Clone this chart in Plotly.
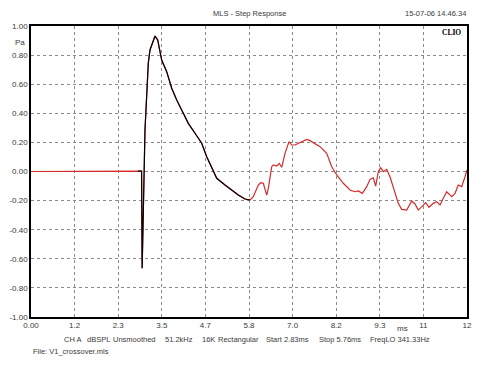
import plotly.graph_objects as go

# Full step response (ms, Pa)
time_ms = [0.0, 1.0, 2.0, 2.86, 2.96, 2.975, 3.00, 3.051, 3.14, 3.185, 3.319, 3.391, 3.498,
           3.632, 3.766, 3.900, 4.077, 4.210, 4.390, 4.569, 4.703, 4.837, 4.971, 5.193,
           5.372, 5.549, 5.728, 5.862,
           5.950, 6.084, 6.148, 6.218, 6.309, 6.352, 6.443, 6.486, 6.577, 6.646, 6.710,
           6.799, 6.906, 6.978, 7.066, 7.155, 7.246, 7.380, 7.468, 7.602, 7.736, 7.915,
           8.049, 8.183, 8.359, 8.539, 8.672, 8.761, 8.868, 8.986, 9.074, 9.162, 9.226,
           9.296, 9.360, 9.430, 9.521, 9.609, 9.724, 9.831, 9.922, 10.056, 10.190, 10.278,
           10.367, 10.458, 10.565, 10.653, 10.768, 10.859, 10.948, 11.036, 11.127, 11.261,
           11.349, 11.437, 11.528, 11.617, 11.67]
pressure_pa = [0.0, 0.002, 0.0, 0.002, 0.003, -0.665, -0.40, 0.285, 0.746, 0.835, 0.931, 0.904, 0.766,
               0.686, 0.572, 0.491, 0.400, 0.331, 0.263, 0.194, 0.102, 0.022, -0.047, -0.093,
               -0.127, -0.162, -0.189, -0.196,
               -0.173, -0.093, -0.077, -0.081, -0.162, -0.116, 0.033, 0.045, 0.038, 0.056, 0.029,
               0.125, 0.205, 0.182, 0.182, 0.194, 0.205, 0.221, 0.212, 0.194, 0.171, 0.125,
               0.033, -0.024, -0.081, -0.127, -0.139, -0.134, -0.150, -0.104, -0.054, -0.043, -0.100,
               -0.001, 0.026, -0.001, 0.015, -0.036, -0.127, -0.219, -0.260, -0.265, -0.203, -0.223,
               -0.265, -0.242, -0.214, -0.246, -0.219, -0.207, -0.230, -0.184, -0.139, -0.173,
               -0.150, -0.093, -0.104, -0.036, 0.010]

window_start_ms = 2.86
window_stop_ms = 5.862

x_range = [0, 11.67]
x_tickvals = [0, 1.167, 2.334, 3.501, 4.668, 5.835, 7.002, 8.169, 9.336, 10.503, 11.67]
x_ticktext = ["0.00", "1.2", "2.3", "3.5", "4.7", "5.8", "7.0", "8.2", "9.3", "11", "12"]
y_tickvals = [-1.0, -0.8, -0.6, -0.4, -0.2, 0.0, 0.2, 0.4, 0.6, 0.8, 1.0]
y_ticktext = ["-1.00", "-0.80", "-0.60", "-0.40", "-0.20", "0.00", "0.20", "0.40", "0.60", "0.80", "1.00"]

info_items = ["CH A", "dBSPL", "Unsmoothed", "51.2kHz", "16K", "Rectangular",
              "Start 2.83ms", "Stop 5.76ms", "FreqLO 341.33Hz"]
info_x_px = [62, 85, 111, 163, 200, 216, 264, 317, 368]

win_t = [t for t in time_ms if window_start_ms <= t <= window_stop_ms]
win_v = [v for t, v in zip(time_ms, pressure_pa) if window_start_ms <= t <= window_stop_ms]

FONT = "Liberation Sans, Arial, sans-serif"
TXT = "#3a3a3a"

fig = go.Figure()
fig.add_trace(go.Scatter(x=time_ms, y=pressure_pa, mode="lines",
                         line=dict(color="#d42a2a", width=1.2), hoverinfo="skip"))
fig.add_trace(go.Scatter(x=win_t, y=win_v, mode="lines",
                         line=dict(color="#000000", width=1.2), hoverinfo="skip"))

axis_common = dict(showgrid=True, gridcolor="#8a8a8a", griddash="dot", gridwidth=1,
                   showline=True, linecolor="black", linewidth=1.5, mirror=True,
                   zeroline=False, ticks="", automargin=False,
                   tickfont=dict(family=FONT, size=8, color=TXT))
fig.update_xaxes(range=x_range, tickmode="array", tickvals=x_tickvals, ticktext=x_ticktext,
                 **axis_common)
fig.update_yaxes(range=[-1, 1], tickmode="array", tickvals=y_tickvals, ticktext=y_ticktext,
                 **axis_common)

# page has an 8px body margin; figure sized so page plot area spans x 31..467, y 26..317
fig.update_layout(
    width=484, height=359, margin=dict(l=23, r=25, t=18, b=50),
    paper_bgcolor="white", plot_bgcolor="white", showlegend=False,
    font=dict(family=FONT, size=8, color=TXT),
)


def px(xp):
    return (xp - 31) / 436.0


def py(yp):
    return (317 - yp) / 291.0


def txt(s, x, y, xanchor="left", size=8, family=FONT, color=TXT):
    fig.add_annotation(text=s, x=px(x), y=py(y), xref="paper", yref="paper",
                       xanchor=xanchor, yanchor="middle", showarrow=False,
                       font=dict(family=family, size=size, color=color))


txt("MLS - Step Response", 249, 13.5, xanchor="center", size=7.5)
txt("15-07-06 14.46.34", 468, 13.5, xanchor="right", size=7.5)
txt("<b>CLIO</b>", 463, 32, xanchor="right", size=7.5,
    family="Liberation Serif, Times New Roman, serif", color="#000")
txt("Pa", 27, 42, xanchor="right")
txt("ms", 402, 328, xanchor="center")
for label, xp in zip(info_items, info_x_px):
    txt(label, xp, 339, xanchor="left", size=7.5)
txt("File: V1_crossover.mls", 31, 351, xanchor="left", size=7.5)

fig.write_html("out.html")
